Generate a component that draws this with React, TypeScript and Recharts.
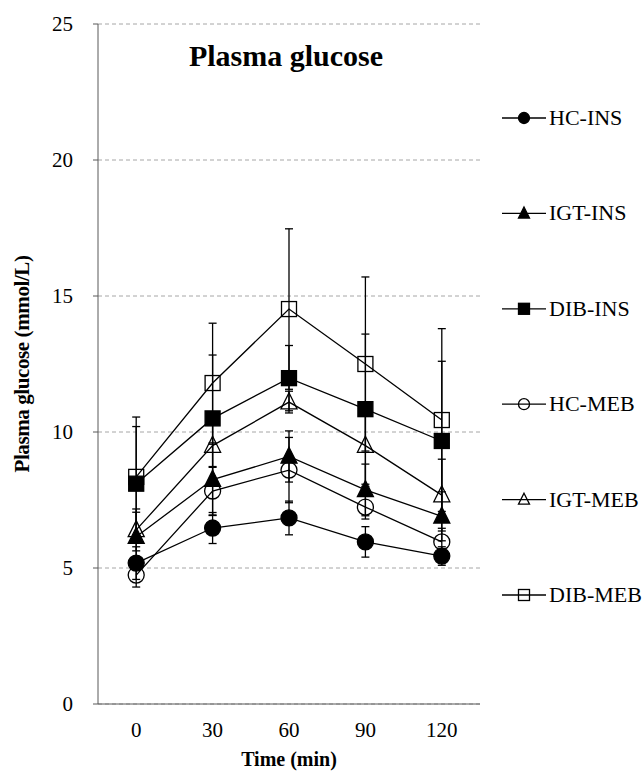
import React from 'react';
import { LineChart, Line, XAxis, YAxis, CartesianGrid, ErrorBar } from 'recharts';

// time points (min)
const TIMES = [0, 30, 60, 90, 120];
const X_BOUNDS = [-15, 15, 45, 75, 105, 135];
const Y_TICKS = [0, 5, 10, 15, 20, 25];

// mean plasma glucose (mmol/L)
const HC_INS = [5.18, 6.47, 6.84, 5.96, 5.44];
const IGT_INS = [6.15, 8.25, 9.1, 7.87, 6.9];
const DIB_INS = [8.1, 10.5, 11.98, 10.84, 9.67];
const HC_MEB = [4.74, 7.83, 8.6, 7.24, 5.96];
const IGT_MEB = [6.4, 9.5, 11.1, 9.5, 7.68];
const DIB_MEB = [8.35, 11.8, 14.52, 12.5, 10.44];

// standard deviations
const HC_INS_SD = [0.6, 0.57, 0.62, 0.56, 0.34];
const IGT_INS_SD = [0.9, 1.3, 0.94, 0.95, 0.9];
const DIB_INS_SD = [2.1, 2.33, 1.2, 2.76, 2.93];
const HC_MEB_SD = [0.44, 0.9, 1.2, 0.44, 0.5];
const IGT_MEB_SD = [0.77, 0.8, 0.4, 1.5, 1.32];
const DIB_MEB_SD = [2.2, 2.2, 2.95, 3.2, 3.36];

type Shape = 'circle' | 'triangle' | 'square';
type Series = { key: string; name: string; values: number[]; sd: number[]; shape: Shape; filled: boolean };

const SERIES: Series[] = [
  { key: 'hcIns', name: 'HC-INS', values: HC_INS, sd: HC_INS_SD, shape: 'circle', filled: true },
  { key: 'igtIns', name: 'IGT-INS', values: IGT_INS, sd: IGT_INS_SD, shape: 'triangle', filled: true },
  { key: 'dibIns', name: 'DIB-INS', values: DIB_INS, sd: DIB_INS_SD, shape: 'square', filled: true },
  { key: 'hcMeb', name: 'HC-MEB', values: HC_MEB, sd: HC_MEB_SD, shape: 'circle', filled: false },
  { key: 'igtMeb', name: 'IGT-MEB', values: IGT_MEB, sd: IGT_MEB_SD, shape: 'triangle', filled: false },
  { key: 'dibMeb', name: 'DIB-MEB', values: DIB_MEB, sd: DIB_MEB_SD, shape: 'square', filled: false },
];

const data = TIMES.map((t, i) => {
  const row: Record<string, number> = { time: t };
  SERIES.forEach((s) => {
    row[s.key] = s.values[i];
    row[s.key + 'Err'] = s.sd[i];
  });
  return row;
});

const FONT = "'Liberation Serif', 'Times New Roman', serif";
const AXIS_GRAY = '#595959';

const Marker = ({ cx, cy, shape, filled, size }: { cx: number; cy: number; shape: Shape; filled: boolean; size: number }) => {
  const common = { fill: filled ? '#000' : 'none', stroke: '#000', strokeWidth: 1.3 };
  if (shape === 'circle') return <circle cx={cx} cy={cy} r={size / 2} {...common} />;
  if (shape === 'square')
    return <rect x={cx - size / 2} y={cy - size / 2} width={size} height={size} {...common} />;
  const h = size;
  return (
    <polygon
      points={`${cx},${cy - h * 0.58} ${cx + size / 2},${cy + h * 0.42} ${cx - size / 2},${cy + h * 0.42}`}
      {...common}
    />
  );
};

const XTick = (p: any) => (
  <text x={p.x} y={p.y} dy={15} textAnchor="middle" fontFamily={FONT} fontSize={21} fill="#000">
    {p.payload.value}
  </text>
);

const YTick = (p: any) => (
  <text x={p.x} y={p.y} dy={7} textAnchor="end" fontFamily={FONT} fontSize={21} fill="#000">
    {p.payload.value}
  </text>
);

const LEGEND_TOP = 118;
const LEGEND_STEP = 95.4;

export default function App() {
  return (
    <div
      style={{ position: 'absolute', left: 0, top: 0, width: 643, height: 771, background: '#fff', fontFamily: FONT }}
    >
      <LineChart width={643} height={771} data={data} margin={{ top: 24, right: 163, bottom: 0, left: 0 }}>
        <CartesianGrid xAxisId="main" vertical={false} stroke="#a6a6a6" strokeDasharray="4 3" />
        <XAxis
          xAxisId="bounds"
          type="number"
          dataKey="time"
          domain={[-15, 135]}
          ticks={X_BOUNDS}
          tickFormatter={() => ''}
          tickSize={6}
          axisLine={false}
          tickLine={{ stroke: AXIS_GRAY }}
          height={0}
        />
        <XAxis
          xAxisId="main"
          type="number"
          dataKey="time"
          domain={[-15, 135]}
          ticks={TIMES}
          tickLine={false}
          tickSize={0}
          tickMargin={18}
          axisLine={{ stroke: AXIS_GRAY }}
          tick={XTick}
          height={67}
          label={{
            value: 'Time (min)',
            position: 'insideBottom',
            offset: 5,
            style: { fontFamily: FONT, fontSize: 20, fontWeight: 'bold', fill: '#000' },
          }}
        />
        <YAxis
          type="number"
          domain={[0, 25]}
          ticks={Y_TICKS}
          width={98}
          tickSize={5}
          tickMargin={20}
          axisLine={{ stroke: AXIS_GRAY }}
          tickLine={{ stroke: AXIS_GRAY }}
          tick={YTick}
          label={{
            value: 'Plasma glucose (mmol/L)',
            angle: -90,
            position: 'insideLeft',
            offset: 22,
            style: { fontFamily: FONT, fontSize: 21, fontWeight: 'bold', fill: '#000', textAnchor: 'middle', letterSpacing: -0.4 },
          }}
        />
        {SERIES.map((s) => (
          <Line
            key={s.key}
            xAxisId="main"
            dataKey={s.key}
            name={s.name}
            stroke="#000"
            strokeWidth={1.3}
            isAnimationActive={false}
            activeDot={false}
            dot={(p: any) => (
              <Marker
                key={`${s.key}-${p.index}`}
                cx={p.cx}
                cy={p.cy}
                shape={s.shape}
                filled={s.filled}
                size={s.shape === 'circle' ? 16 : s.shape === 'square' ? 15 : 16}
              />
            )}
          >
            <ErrorBar dataKey={s.key + 'Err'} direction="y" width={4} stroke="#000" strokeWidth={1.3} />
          </Line>
        ))}
      </LineChart>
      <svg
        width={643}
        height={771}
        style={{ position: 'absolute', left: 0, top: 0, pointerEvents: 'none' }}
      >
        <text x={286} y={66} textAnchor="middle" fontFamily={FONT} fontSize={30} fontWeight="bold" fill="#000">
          Plasma glucose
        </text>
        {SERIES.map((s, i) => {
          const y = LEGEND_TOP + i * LEGEND_STEP;
          return (
            <g key={s.key}>
              <line x1={502} x2={546} y1={y} y2={y} stroke="#000" strokeWidth={1.3} />
              <Marker cx={524} cy={y} shape={s.shape} filled={s.filled} size={11} />
              <text x={549} y={y + 7} fontFamily={FONT} fontSize={22} fill="#000">
                {s.name}
              </text>
            </g>
          );
        })}
      </svg>
    </div>
  );
}
